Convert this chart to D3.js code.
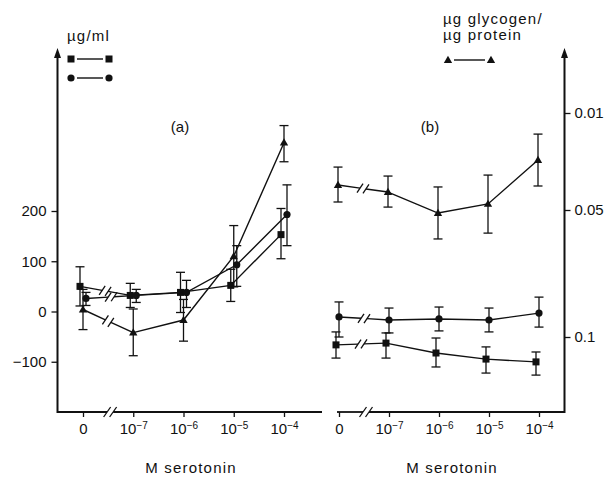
<!DOCTYPE html>
<html>
<head>
<meta charset="utf-8">
<script src="https://cdn.jsdelivr.net/npm/d3@7"></script>
<style>
    body { margin: 0; background: #fff; }
    text { font-family: "Liberation Sans", Arial, Helvetica, sans-serif; fill: #111; }
</style>
</head>
<body>
<svg id="chart" width="612" height="477"></svg>
<script>

// Doses (exponent of M serotonin), "0" is the control
var doses = ["0", "-7", "-6", "-5", "-4"];

// Left axis ticks (µg/ml) and right axis ticks (µg glycogen / µg protein)
var leftTicks = [-100, 0, 100, 200];
var rightTicks = [0.01, 0.05, 0.1];

// Panel (a), read on the left axis
var aSquare      = [50, 32, 38, 52, 153];
var aSquareLow   = [11, 8, -2, 20, 105];
var aSquareHigh  = [89, 56, 78, 84, 205];
var aCircle      = [26, 32, 38, 93, 193];
var aCircleLow   = [12, 18, 8, 50, 131];
var aCircleHigh  = [38, 44, 62, 131, 252];
var aTriangle     = [4, -42, -17, 110, 336];
var aTriangleLow  = [-36, -88, -59, 49, 298];
var aTriangleHigh = [44, 5, 24, 171, 370];

// Panel (b), read on the right axis
var bTriangle     = [0.0397, 0.0426, 0.0512, 0.0475, 0.0294];
var bTriangleLow  = [0.0323, 0.0360, 0.0405, 0.0356, 0.0187];
var bTriangleHigh = [0.0467, 0.0488, 0.0614, 0.0591, 0.0401];
var bCircle      = [0.0921, 0.0933, 0.0929, 0.0933, 0.0906];
var bCircleLow   = [0.0862, 0.0886, 0.0882, 0.0886, 0.0843];
var bCircleHigh  = [0.1000, 0.0984, 0.0976, 0.0980, 0.0961];
var bSquare      = [0.1031, 0.1024, 0.1063, 0.1087, 0.1098];
var bSquareLow   = [0.0980, 0.0984, 0.1004, 0.1039, 0.1059];
var bSquareHigh  = [0.1083, 0.1083, 0.1118, 0.1142, 0.1150];

var svg = d3.select("#chart");

var axisY = 412;
var leftX = 57.5;
var rightX = 564.5;
var fontSize = 15;

// Scales
var yLeft = d3.scaleLinear()
    .domain([-200, 200])
    .range([axisY, 211]);

// Right axis is not linear in the original, so it is piecewise
var yRight = d3.scaleLinear()
    .domain([0.01, 0.05, 0.1])
    .range([113, 210, 337]);

var xA = d3.scalePoint().domain(doses).range([83, 284]);
var xB = d3.scalePoint().domain(doses).range([339, 539]);

// Draw an upward arrow axis line
function arrowAxis(x) {
    svg.append("line")
        .attr("x1", x).attr("x2", x)
        .attr("y1", axisY + 1).attr("y2", 56)
        .attr("stroke", "#111")
        .attr("stroke-width", 2);
    svg.append("path")
        .attr("d", `M${x - 3.5},${58} L${x},${48} L${x + 3.5},${58} Z`)
        .attr("fill", "#111");
}

arrowAxis(leftX);
arrowAxis(rightX);

// Left axis ticks
svg.append("g")
    .attr("transform", `translate(${leftX}, 0)`)
    .call(d3.axisLeft(yLeft)
        .tickValues(leftTicks)
        .tickSize(6)
        .tickPadding(5)
    )
    .call(g => g.select(".domain").remove())
    .call(g => g.selectAll("line").attr("stroke", "#111").attr("stroke-width", 1.3))
    .call(g => g.selectAll("text").attr("font-size", fontSize).attr("font-family", null));

// Right axis ticks
svg.append("g")
    .attr("transform", `translate(${rightX}, 0)`)
    .call(d3.axisRight(yRight)
        .tickValues(rightTicks)
        .tickFormat(d => String(d))
        .tickSize(6)
        .tickPadding(4)
    )
    .call(g => g.select(".domain").remove())
    .call(g => g.selectAll("line").attr("stroke", "#111").attr("stroke-width", 1.3))
    .call(g => g.selectAll("text").attr("font-size", fontSize).attr("font-family", null));

// Dose labels with superscript exponents
function doseLabels(g) {
    g.selectAll("text").each(function(d) {
        var t = d3.select(this)
            .attr("font-size", fontSize)
            .attr("font-family", null)
            .text(null);
        if (d === "0") {
            t.text("0");
        } else {
            t.append("tspan").text("10");
            t.append("tspan")
                .attr("dy", "-0.45em")
                .attr("font-size", 10)
                .text("\u2212" + d.slice(1));
        }
    });
}

// Horizontal axis with a break between "0" and 10^-7
function bottomAxis(xScale, x0, x1) {
    var breakX = (xScale(doses[0]) + xScale(doses[1])) / 2 + 2;
    var gap = 3;

    svg.append("line")
        .attr("x1", x0).attr("x2", breakX - gap)
        .attr("y1", axisY).attr("y2", axisY)
        .attr("stroke", "#111").attr("stroke-width", 1.8);
    svg.append("line")
        .attr("x1", breakX + gap).attr("x2", x1)
        .attr("y1", axisY).attr("y2", axisY)
        .attr("stroke", "#111").attr("stroke-width", 1.8);

    [-gap, gap].forEach(function(dx) {
        svg.append("line")
            .attr("x1", breakX + dx - 3.5).attr("y1", axisY + 5)
            .attr("x2", breakX + dx + 3.5).attr("y2", axisY - 5)
            .attr("stroke", "#111").attr("stroke-width", 1.3);
    });

    svg.append("g")
        .attr("transform", `translate(0, ${axisY})`)
        .call(d3.axisBottom(xScale)
            .tickSize(5)
            .tickPadding(6)
        )
        .call(g => g.select(".domain").remove())
        .call(g => g.selectAll("line").attr("stroke", "#111").attr("stroke-width", 1.3))
        .call(doseLabels);
}

bottomAxis(xA, leftX, 322);
bottomAxis(xB, 337, rightX);

// Marker shapes
function drawMarker(g, shape, x, y) {
    if (shape === "square") {
        g.append("rect")
            .attr("x", x - 3.5).attr("y", y - 3.5)
            .attr("width", 7).attr("height", 7)
            .attr("fill", "#111");
    } else if (shape === "circle") {
        g.append("circle")
            .attr("cx", x).attr("cy", y).attr("r", 3.6)
            .attr("fill", "#111");
    } else {
        g.append("path")
            .attr("d", d3.symbol().type(d3.symbolTriangle).size(30)())
            .attr("transform", `translate(${x}, ${y + 0.5})`)
            .attr("fill", "#111");
    }
}

// One series: error bars, line with a break after the control, markers
function drawSeries(xScale, yScale, dx, shape, mean, low, high) {
    var g = svg.append("g").attr("class", "series");
    var pts = doses.map(function(d, i) {
        return [xScale(d) + dx, yScale(mean[i])];
    });

    // Error bars
    doses.forEach(function(d, i) {
        var x = xScale(d) + dx;
        var y1 = yScale(low[i]);
        var y2 = yScale(high[i]);
        g.append("line")
            .attr("x1", x).attr("x2", x)
            .attr("y1", y1).attr("y2", y2)
            .attr("stroke", "#111").attr("stroke-width", 1.3);
        [y1, y2].forEach(function(y) {
            g.append("line")
                .attr("x1", x - 4.5).attr("x2", x + 4.5)
                .attr("y1", y).attr("y2", y)
                .attr("stroke", "#111").attr("stroke-width", 1.3);
        });
    });

    // First segment broken with "//"
    var p0 = pts[0], p1 = pts[1];
    var mx = (p0[0] + p1[0]) / 2, my = (p0[1] + p1[1]) / 2;
    var len = Math.hypot(p1[0] - p0[0], p1[1] - p0[1]);
    var ux = (p1[0] - p0[0]) / len, uy = (p1[1] - p0[1]) / len;
    var gap = 3;

    g.append("path")
        .attr("d", d3.line()([p0, [mx - ux * gap, my - uy * gap]]))
        .attr("stroke", "#111").attr("stroke-width", 1.4).attr("fill", "none");
    g.append("path")
        .attr("d", d3.line()([[mx + ux * gap, my + uy * gap], p1]))
        .attr("stroke", "#111").attr("stroke-width", 1.4).attr("fill", "none");
    [-gap, gap].forEach(function(s) {
        var cx = mx + ux * s, cy = my + uy * s;
        g.append("line")
            .attr("x1", cx - 3).attr("y1", cy + 4.5)
            .attr("x2", cx + 3).attr("y2", cy - 4.5)
            .attr("stroke", "#111").attr("stroke-width", 1.3);
    });

    // Rest of the line
    g.append("path")
        .attr("d", d3.line()(pts.slice(1)))
        .attr("stroke", "#111").attr("stroke-width", 1.4).attr("fill", "none");

    pts.forEach(function(p) {
        drawMarker(g, shape, p[0], p[1]);
    });
}

// Panel (a)
drawSeries(xA, yLeft, 0, "triangle", aTriangle, aTriangleLow, aTriangleHigh);
drawSeries(xA, yLeft, -3, "square", aSquare, aSquareLow, aSquareHigh);
drawSeries(xA, yLeft, 3, "circle", aCircle, aCircleLow, aCircleHigh);

// Panel (b)
drawSeries(xB, yRight, -1, "triangle", bTriangle, bTriangleLow, bTriangleHigh);
drawSeries(xB, yRight, 0, "circle", bCircle, bCircleLow, bCircleHigh);
drawSeries(xB, yRight, -3, "square", bSquare, bSquareLow, bSquareHigh);

// Panel labels
svg.append("text")
    .attr("x", 180).attr("y", 132)
    .attr("text-anchor", "middle")
    .attr("font-size", fontSize)
    .text("(a)");

svg.append("text")
    .attr("x", 430).attr("y", 132)
    .attr("text-anchor", "middle")
    .attr("font-size", fontSize)
    .text("(b)");

// Axis titles
[191, 452].forEach(function(cx) {
    svg.append("text")
        .attr("x", cx).attr("y", 473)
        .attr("text-anchor", "middle")
        .attr("font-size", fontSize)
        .attr("letter-spacing", 1.2)
        .text("M serotonin");
});

svg.append("text")
    .attr("x", 67).attr("y", 41)
    .attr("font-size", fontSize)
    .attr("letter-spacing", 1.2)
    .text("\u00b5g/ml");

svg.append("text")
    .attr("x", 443).attr("y", 24)
    .attr("font-size", fontSize)
    .attr("letter-spacing", 1.2)
    .text("\u00b5g glycogen/");

svg.append("text")
    .attr("x", 443).attr("y", 40)
    .attr("font-size", fontSize)
    .attr("letter-spacing", 1.2)
    .text("\u00b5g protein");

// Legend keys
function legendKey(shape, x0, x1, y) {
    var g = svg.append("g").attr("class", "legend");
    g.append("line")
        .attr("x1", x0 + 6).attr("x2", x1 - 6)
        .attr("y1", y).attr("y2", y)
        .attr("stroke", "#111").attr("stroke-width", 1.4);
    drawMarker(g, shape, x0, y);
    drawMarker(g, shape, x1, y);
}

legendKey("square", 71, 109, 59);
legendKey("circle", 71, 109, 78);
legendKey("triangle", 448, 491, 60);

</script>
</body>
</html>
